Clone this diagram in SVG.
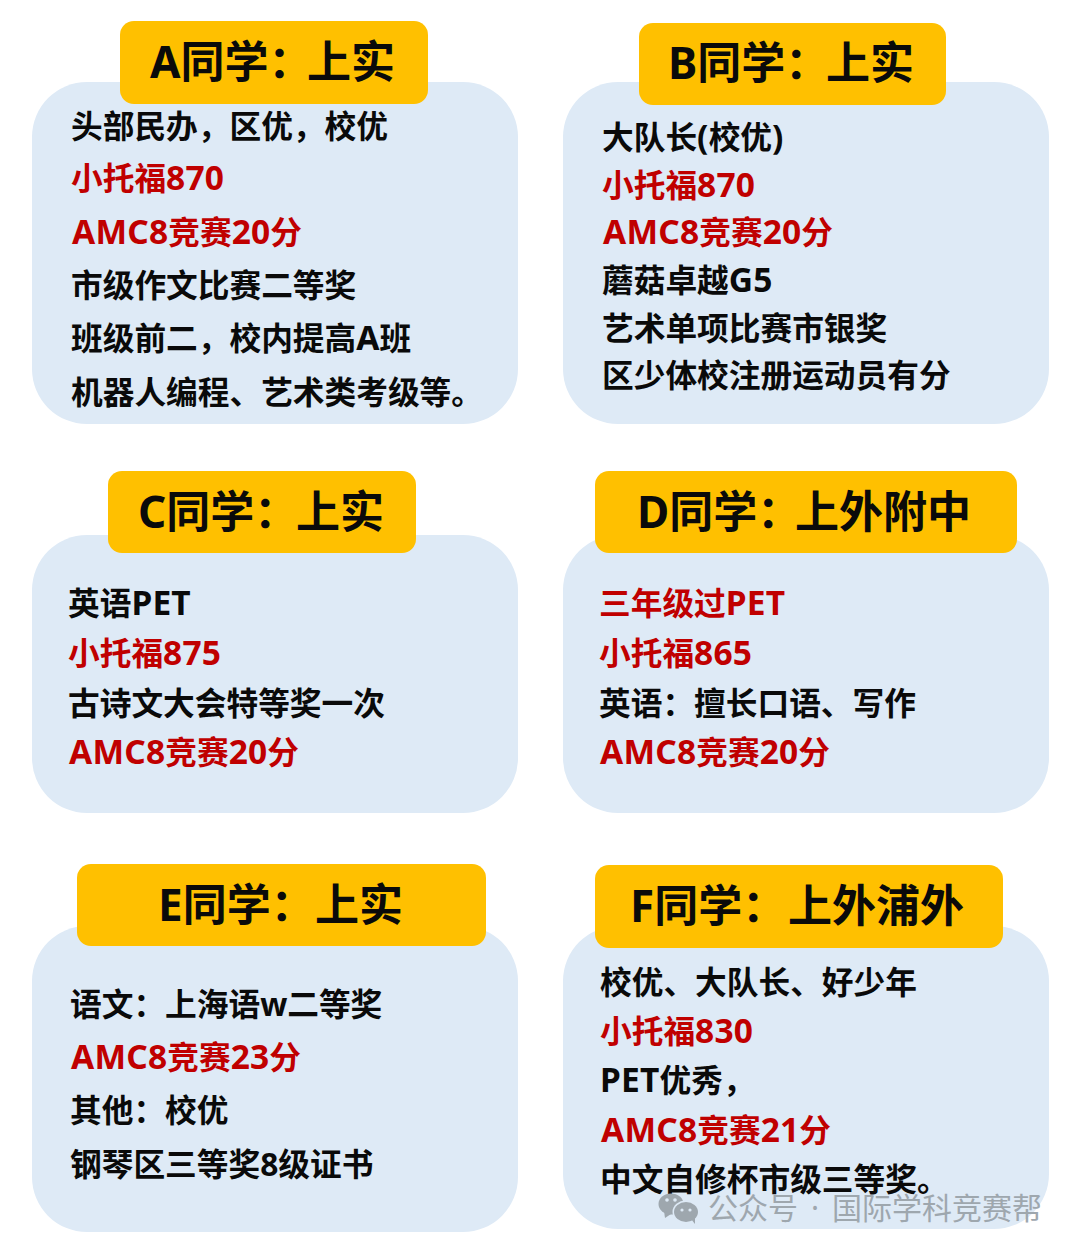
<svg xmlns="http://www.w3.org/2000/svg" width="1080" height="1252" viewBox="0 0 1080 1252">
<style>
text{font-family:"Noto Sans","Noto Sans CJK SC",sans-serif}
.card{fill:#deeaf6}
.tag{fill:#ffc000}
.t{font-size:44px;font-weight:700;fill:#0a0a0a}
.b{font-size:31.7px;font-weight:700;fill:#0a0a0a}
.r{font-size:31.7px;font-weight:700;fill:#c00000}
.l{font-size:33.5px;letter-spacing:.2px}
.w{font-size:30px;font-weight:400;fill:#9ea7ae}
.i{fill:#9ea7ae}
.e{fill:#deeaf6}
</style>
<defs><clipPath id="wm"><rect x="650" y="1180" width="393" height="60"/></clipPath></defs>
<rect width="1080" height="1252" fill="#fff"/>
<g id="node-a">
<rect class="card" x="32" y="82" width="486" height="342" rx="55"/>
<rect class="tag" x="120" y="21" width="308" height="83" rx="14"/>
<text class="t" x="150" y="78">A同学：<tspan x="307">上实</tspan></text>
<text class="b" x="71" y="138">头部民办，区优，校优</text>
<text class="r" x="71" y="190">小托福<tspan class="l">870</tspan></text>
<text class="r" x="72" y="244"><tspan class="l">AMC8</tspan>竞赛<tspan class="l">20</tspan>分</text>
<text class="b" x="71" y="297">市级作文比赛二等奖</text>
<text class="b" x="71" y="350">班级前二，校内提高<tspan class="l">A</tspan>班</text>
<text class="b" x="71" y="404">机器人编程、艺术类考级等。</text>
</g>
<g id="node-b">
<rect class="card" x="563" y="82" width="486" height="342" rx="55"/>
<rect class="tag" x="639" y="23" width="307" height="82" rx="14"/>
<text class="t" x="668" y="79">B同学：<tspan x="826">上实</tspan></text>
<text class="b" x="602" y="149">大队长<tspan class="l">(</tspan>校优<tspan class="l">)</tspan></text>
<text class="r" x="602" y="197">小托福<tspan class="l">870</tspan></text>
<text class="r" x="603" y="244"><tspan class="l">AMC8</tspan>竞赛<tspan class="l">20</tspan>分</text>
<text class="b" x="602" y="292">蘑菇卓越<tspan class="l">G5</tspan></text>
<text class="b" x="602" y="340">艺术单项比赛市银奖</text>
<text class="b" x="602" y="387">区少体校注册运动员有分</text>
</g>
<g id="node-c">
<rect class="card" x="32" y="535" width="486" height="278" rx="55"/>
<rect class="tag" x="108" y="471" width="308" height="82" rx="14"/>
<text class="t" x="138" y="528">C同学：<tspan x="296">上实</tspan></text>
<text class="b" x="68" y="615">英语<tspan class="l">PET</tspan></text>
<text class="r" x="68" y="665">小托福<tspan class="l">875</tspan></text>
<text class="b" x="68" y="715">古诗文大会特等奖一次</text>
<text class="r" x="69" y="764"><tspan class="l">AMC8</tspan>竞赛<tspan class="l">20</tspan>分</text>
</g>
<g id="node-d">
<rect class="card" x="563" y="535" width="486" height="278" rx="55"/>
<rect class="tag" x="595" y="471" width="422" height="82" rx="14"/>
<text class="t" x="637" y="528">D同学：<tspan x="795">上外附中</tspan></text>
<text class="r" x="599" y="615">三年级过<tspan class="l">PET</tspan></text>
<text class="r" x="599" y="665">小托福<tspan class="l">865</tspan></text>
<text class="b" x="599" y="715">英语：擅长口语、写作</text>
<text class="r" x="600" y="764"><tspan class="l">AMC8</tspan>竞赛<tspan class="l">20</tspan>分</text>
</g>
<g id="node-e">
<rect class="card" x="32" y="926" width="486" height="306" rx="55"/>
<rect class="tag" x="77" y="864" width="409" height="82" rx="14"/>
<text class="t" x="158" y="921">E同学：<tspan x="315">上实</tspan></text>
<text class="b" x="70" y="1016">语文：上海语w二等奖</text>
<text class="r" x="71" y="1069"><tspan class="l">AMC8</tspan>竞赛<tspan class="l">23</tspan>分</text>
<text class="b" x="70" y="1122">其他：校优</text>
<text class="b" x="70" y="1176">钢琴区三等奖8级证书</text>
</g>
<g id="node-f">
<rect class="card" x="563" y="926" width="486" height="303" rx="55"/>
<rect class="tag" x="595" y="865" width="408" height="83" rx="14"/>
<text class="t" x="630" y="922">F同学：<tspan x="788">上外浦外</tspan></text>
<text class="b" x="600" y="994">校优、大队长、好少年</text>
<text class="r" x="600" y="1043">小托福<tspan class="l">830</tspan></text>
<text class="b" x="600" y="1092"><tspan class="l">PET</tspan>优秀，</text>
<text class="r" x="601" y="1142"><tspan class="l">AMC8</tspan>竞赛<tspan class="l">21</tspan>分</text>
<text class="b" x="600" y="1191">中文自修杯市级三等奖。</text>
</g>
<g id="connectors"></g>
<g id="watermark">
<ellipse class="i" cx="671" cy="1204" rx="12.5" ry="10.5"/>
<path class="i" d="M664 1211l1 7 6-4z"/>
<ellipse class="e" cx="686" cy="1212" rx="13.5" ry="11.5"/>
<ellipse class="i" cx="686" cy="1212" rx="12" ry="10"/>
<path class="i" d="M691 1219l4 5 0-8z"/>
<circle class="e" cx="667" cy="1200" r="1.8"/><circle class="e" cx="675" cy="1200" r="1.8"/>
<circle class="e" cx="682" cy="1210" r="1.6"/><circle class="e" cx="690" cy="1210" r="1.6"/>
<text class="w" x="708" y="1219" clip-path="url(#wm)">公众号<tspan dx="13">·</tspan><tspan x="832">国际学科竞赛帮</tspan></text>
</g>
</svg>
